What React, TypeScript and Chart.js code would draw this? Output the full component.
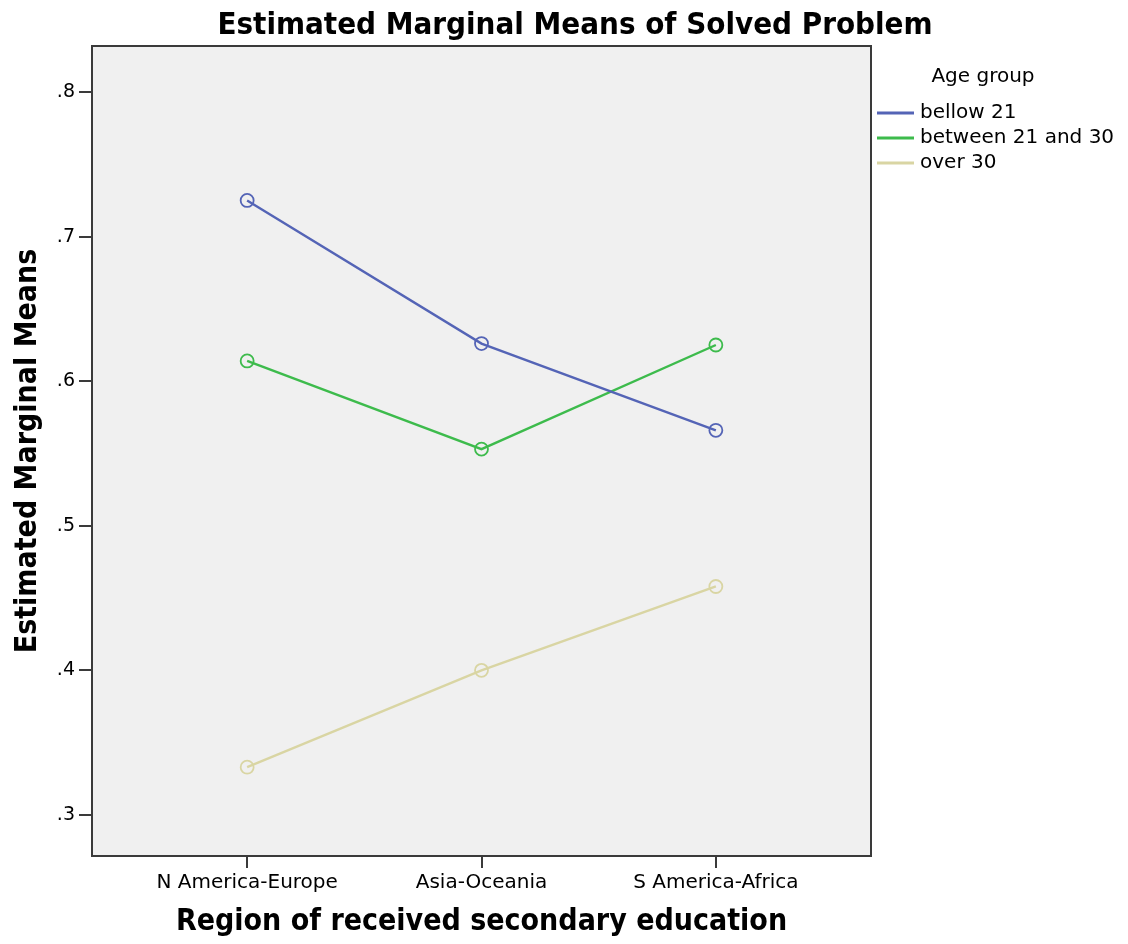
import React, { useEffect, useRef } from 'react';
import { Chart, registerables } from 'chart.js';

Chart.register(...registerables);

const chartTitle = 'Estimated Marginal Means of Solved Problem';
const xAxisTitle = 'Region of received secondary education';
const yAxisTitle = 'Estimated Marginal Means';
const legendTitle = 'Age group';
const categories = ['N America-Europe', 'Asia-Oceania', 'S America-Africa'];
const seriesNames = ['bellow 21', 'between 21 and 30', 'over 30'];
const below21 = [0.725, 0.626, 0.566];
const between21and30 = [0.614, 0.553, 0.625];
const over30 = [0.333, 0.4, 0.458];
const yTickValues = [0.3, 0.4, 0.5, 0.6, 0.7, 0.8];
const seriesColors = ['#5464b6', '#3dbb4c', '#d9d5a3'];

const BOLD_FAMILY = "'DejaVu Sans Condensed', 'Liberation Sans Narrow', 'DejaVu Sans', sans-serif";
const FAMILY = "'DejaVu Sans', sans-serif";

const W = 1128;
const H = 944;

const decoPlugin = {
  id: 'deco',
  beforeDraw(chart: any) {
    const { ctx, chartArea } = chart;
    ctx.save();
    ctx.fillStyle = '#ffffff';
    ctx.fillRect(0, 0, chart.width, chart.height);
    ctx.fillStyle = '#f0f0f0';
    ctx.fillRect(chartArea.left, chartArea.top, chartArea.right - chartArea.left, chartArea.bottom - chartArea.top);
    ctx.restore();
  },
  beforeDatasetsDraw(chart: any) {
    const { ctx, chartArea } = chart;
    ctx.save();
    ctx.strokeStyle = '#3a3a3a';
    ctx.lineWidth = 2;
    ctx.strokeRect(chartArea.left, chartArea.top, chartArea.right - chartArea.left, chartArea.bottom - chartArea.top);
    ctx.restore();
  },
  afterDraw(chart: any) {
    const { ctx, chartArea } = chart;
    ctx.save();
    // main title
    ctx.fillStyle = '#000';
    ctx.font = `bold 31px ${BOLD_FAMILY}`;
    ctx.textAlign = 'center';
    ctx.textBaseline = 'middle';
    ctx.fillText(chartTitle, 575, 26);
    // legend
    const lx = chartArea.right + 6;
    ctx.font = `20px ${FAMILY}`;
    ctx.fillText(legendTitle, 983, 77);
    ctx.textAlign = 'left';
    ctx.font = `20px ${FAMILY}`;
    chart.data.datasets.forEach((ds: any, i: number) => {
      const y = 113 + i * 25;
      ctx.strokeStyle = ds.borderColor;
      ctx.lineWidth = 3;
      ctx.beginPath();
      ctx.moveTo(lx, y);
      ctx.lineTo(lx + 37, y);
      ctx.stroke();
      ctx.fillStyle = '#000';
      ctx.fillText(ds.label, lx + 43, y);
    });
    ctx.restore();
  },
};

export default function App() {
  const ref = useRef<HTMLCanvasElement>(null);
  useEffect(() => {
    if (!ref.current) return;
    const series = [below21, between21and30, over30];
    const chart = new Chart(ref.current, {
      type: 'line',
      data: {
        datasets: series.map((vals, i) => ({
          label: seriesNames[i],
          data: vals.map((v, j) => ({ x: j, y: v })),
          borderColor: seriesColors[i],
          backgroundColor: 'rgba(0,0,0,0)',
          borderWidth: 2.4,
          pointRadius: 6.5,
          pointBorderWidth: 1.8,
          pointBackgroundColor: 'rgba(0,0,0,0)',
          pointBorderColor: seriesColors[i],
          fill: false,
          tension: 0,
        })),
      },
      options: {
        responsive: false,
        maintainAspectRatio: false,
        devicePixelRatio: 1,
        animation: false,
        layout: { padding: { top: 46, right: W - 871, bottom: 0, left: 0 } },
        plugins: {
          legend: { display: false },
          title: { display: false },
          tooltip: { enabled: false },
        },
        scales: {
          x: {
            type: 'linear',
            min: -0.662,
            max: 2.662,
            afterBuildTicks: (s: any) => {
              s.ticks = categories.map((_, i) => ({ value: i }));
            },
            afterFit: (s: any) => {
              s.height = 88;
            },
            border: { display: false },
            grid: {
              drawOnChartArea: false,
              drawTicks: true,
              tickLength: 12,
              color: '#3a3a3a',
              lineWidth: 2,
            },
            ticks: {
              autoSkip: false,
              maxRotation: 0,
              padding: 3,
              color: '#000',
              font: { family: FAMILY, size: 20 },
              callback: (v: any) => categories[v] ?? '',
            },
            title: {
              display: true,
              text: xAxisTitle,
              color: '#000',
              font: { family: BOLD_FAMILY, size: 30, weight: 'bold' },
              padding: { top: 0, bottom: 4 },
            },
          },
          y: {
            type: 'linear',
            min: 0.2716,
            max: 0.8318,
            afterBuildTicks: (s: any) => {
              s.ticks = yTickValues.map((v) => ({ value: v }));
            },
            afterFit: (s: any) => {
              s.width = 92;
            },
            border: { display: false },
            grid: {
              drawOnChartArea: false,
              drawTicks: true,
              tickLength: 13,
              color: '#3a3a3a',
              lineWidth: 2,
            },
            ticks: {
              padding: 4,
              color: '#000',
              font: { family: FAMILY, size: 19 },
              callback: (v: any) => Number(v).toFixed(1).replace(/^0/, ''),
            },
            title: {
              display: true,
              text: yAxisTitle,
              color: '#000',
              font: { family: BOLD_FAMILY, size: 30, weight: 'bold' },
              padding: { top: 10, bottom: 0 },
            },
          },
        },
      },
      plugins: [decoPlugin],
    });
    return () => chart.destroy();
  }, []);
  return (
    <div style={{ position: 'absolute', left: 0, top: 0, width: W, height: H }}>
      <canvas ref={ref} width={W} height={H} style={{ display: 'block', width: W, height: H }} />
    </div>
  );
}
